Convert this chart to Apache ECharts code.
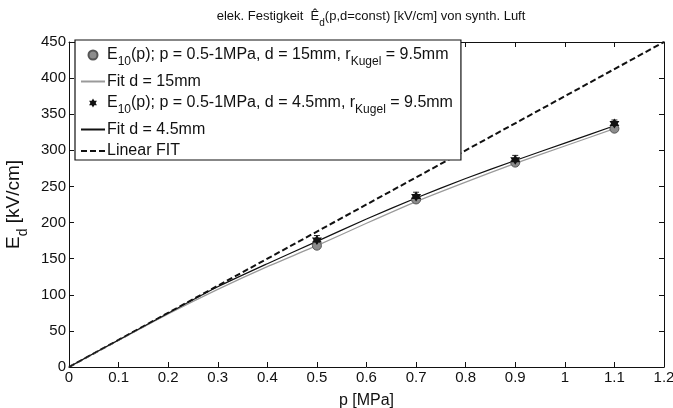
<!DOCTYPE html>
<html>
<head>
<meta charset="utf-8">
<script src="https://cdn.jsdelivr.net/npm/echarts@6/dist/echarts.min.js"></script>
<style>
  html, body { margin: 0; padding: 0; background: #fff; }
  #chart { width: 673px; height: 408px; }
</style>
</head>
<body>
<div id="chart"></div>
<script>
// measured points
const pMeas = [0.5, 0.7, 0.9, 1.1]
const e15 = [168, 232, 283, 330]
const e15Err = [4, 4, 4, 4]
const e45 = [176, 236, 287, 337]
const e45Err = [6, 6, 6, 5]

// fit curves
const pFit = [0, 0.1, 0.2, 0.3, 0.4, 0.5, 0.6, 0.7, 0.8, 0.9, 1.0, 1.1]
const fit15 = [0, 37, 73.5, 107.5, 139, 168, 199, 229, 256, 282, 306, 330]
const fit45 = [0, 37.5, 74.5, 111, 143, 174, 205, 234, 261, 286, 310, 334]

// linear fit
const pLin = [0, 1.2]
const lin = [0, 450]

const xTicks = [0, 0.1, 0.2, 0.3, 0.4, 0.5, 0.6, 0.7, 0.8, 0.9, 1, 1.1, 1.2]

const font = 'Liberation Sans, Arial, sans-serif'
const star = 'path://M0,-10L2.9,-5L8.66,-5L5.8,0L8.66,5L2.9,5L0,10L-2.9,5L-8.66,5L-5.8,0L-8.66,-5L-2.9,-5Z'

const zip = (a, b, c) => a.map((v, i) => c ? [v, b[i], c[i]] : [v, b[i]])

const errBars = (params, api) => {
  const x = api.value(0), y = api.value(1), e = api.value(2)
  const t = api.coord([x, y + e]), b = api.coord([x, y - e])
  const w = 3
  const st = {stroke: '#222', lineWidth: 1}
  return {
    type: 'group',
    children: [
      {type: 'line', shape: {x1: t[0], y1: t[1], x2: b[0], y2: b[1]}, style: st},
      {type: 'line', shape: {x1: t[0] - w, y1: t[1], x2: t[0] + w, y2: t[1]}, style: st},
      {type: 'line', shape: {x1: b[0] - w, y1: b[1], x2: b[0] + w, y2: b[1]}, style: st}
    ]
  }
}

const sub = {fontSize: 10, verticalAlign: 'bottom', padding: [0, 0, -5, 0], fontFamily: font, color: '#111'}

const legendText = {
  m15: 'E{sub|10}(p); p = 0.5-1MPa, d = 15mm, r{sub|Kugel} = 9.5mm',
  f15: 'Fit d = 15mm',
  m45: 'E{sub|10}(p); p = 0.5-1MPa, d = 4.5mm, r{sub|Kugel} = 9.5mm',
  f45: 'Fit d = 4.5mm',
  lin: 'Linear FIT'
}
const noDot = {opacity: 0}

const axisBase = {
  axisLine: {show: true, onZero: false, lineStyle: {color: '#111', width: 1}},
  axisTick: {show: true, inside: true, length: 5, lineStyle: {color: '#111'}},
  splitLine: {show: false}
}

const chart = echarts.init(document.getElementById('chart'))
chart.setOption({
  animation: false,
  backgroundColor: '#fff',
  textStyle: {fontFamily: font},
  title: {
    text: 'elek. Festigkeit  Ê{sub|d}(p,d=const) [kV/cm] von synth. Luft',
    left: 366, textAlign: 'center', top: 5,
    textStyle: {fontSize: 13, fontWeight: 'normal', color: '#111', fontFamily: font, rich: {sub}}
  },
  grid: {left: 69, right: 9, top: 42, bottom: 41, outerBoundsMode: 'none'},
  legend: {
    orient: 'vertical',
    left: 75, top: 40,
    backgroundColor: '#fff',
    borderColor: '#111', borderWidth: 1.2,
    padding: [7, 8, 1, 5],
    itemGap: 5.5,
    itemWidth: 24, itemHeight: 9,
    data: [
      {name: 'm15'},
      {name: 'f15', itemStyle: noDot},
      {name: 'm45'},
      {name: 'f45', itemStyle: noDot},
      {name: 'lin', itemStyle: noDot}
    ],
    formatter: n => legendText[n],
    textStyle: {fontSize: 16, color: '#111', fontFamily: font, padding: [0, 0, 0, -3], rich: {sub: {...sub, fontSize: 12}}}
  },
  xAxis: [
    {
      ...axisBase, type: 'value', min: 0, max: 1.2, interval: 0.1,
      name: 'p [MPa]', nameLocation: 'middle', nameGap: 26,
      nameTextStyle: {fontSize: 16, color: '#111', fontFamily: font},
      axisLabel: {fontSize: 15, color: '#111', margin: 3, formatter: v => {
        const t = xTicks.find(k => Math.abs(k - v) < 1e-6)
        return t === undefined ? '' : String(t)
      }}
    },
    {
      ...axisBase, type: 'value', position: 'top', min: 0, max: 1.2, interval: 0.1,
      axisLabel: {show: false}
    }
  ],
  yAxis: [
    {
      ...axisBase, type: 'value', min: 0, max: 450, interval: 50,
      name: 'E{sub|d} [kV/cm]', nameLocation: 'middle', nameGap: 32, nameRotate: 90,
      nameTextStyle: {fontSize: 19, color: '#111', fontFamily: font, rich: {sub: {...sub, fontSize: 14, padding: [0, 0, -7, 0]}}},
      axisLabel: {fontSize: 15, color: '#111', margin: 3}
    },
    {
      ...axisBase, type: 'value', position: 'right', min: 0, max: 450, interval: 50,
      axisLabel: {show: false}
    }
  ],
  series: [
    {
      name: 'lin', type: 'line', data: zip(pLin, lin), symbol: 'none', z: 2,
      lineStyle: {color: '#111', width: 2, type: [6, 3]}, itemStyle: {color: '#111'}
    },
    {
      name: 'f15', type: 'line', data: zip(pFit, fit15), symbol: 'none', smooth: 0.2,
      lineStyle: {color: '#9a9a9a', width: 1.2}, itemStyle: {color: '#9a9a9a'}
    },
    {
      name: 'f45', type: 'line', data: zip(pFit, fit45), symbol: 'none', smooth: 0.2,
      lineStyle: {color: '#111', width: 1.2}, itemStyle: {color: '#111'}
    },
    {
      type: 'custom', renderItem: errBars, data: zip(pMeas, e15, e15Err), z: 3, silent: true
    },
    {
      type: 'custom', renderItem: errBars, data: zip(pMeas, e45, e45Err), z: 3, silent: true
    },
    {
      name: 'm15', type: 'scatter', data: zip(pMeas, e15), symbol: 'circle', symbolSize: 9, z: 4,
      itemStyle: {color: '#8c8c8c', borderColor: '#555', borderWidth: 1, opacity: 1}
    },
    {
      name: 'm45', type: 'scatter', data: zip(pMeas, e45), symbol: star, symbolSize: 10, z: 5,
      itemStyle: {color: '#111', opacity: 1}
    }
  ]
})
</script>
</body>
</html>
